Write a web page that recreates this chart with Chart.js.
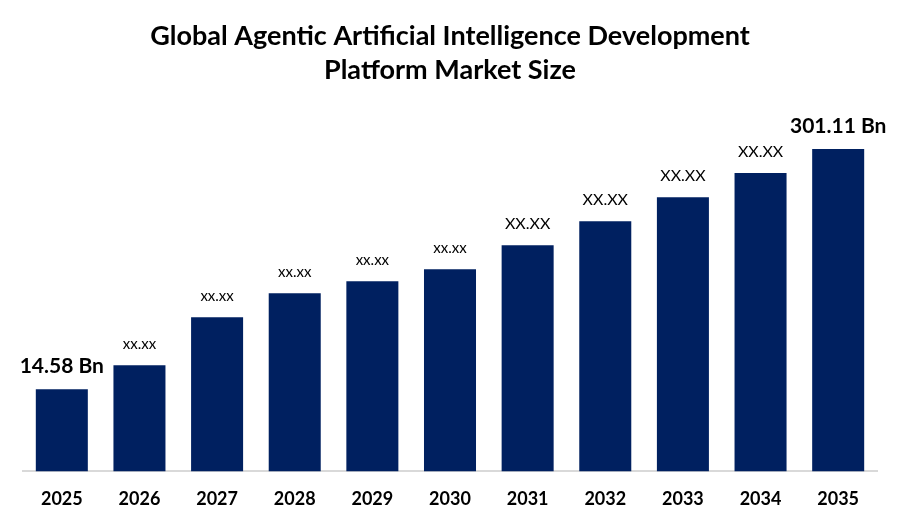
<!DOCTYPE html>
<html lang="en">
<head>
<meta charset="UTF-8">
<title>Global Agentic Artificial Intelligence Development Platform Market Size</title>
<style>
  html, body { margin: 0; padding: 0; background: #fff; }
  #wrap { width: 900px; height: 525px; }
</style>
</head>
<body>
<div id="wrap"><canvas id="grafico"></canvas></div>
<script src="https://cdn.jsdelivr.net/npm/chart.js"></script>
<script>
  // categories
  const years = ['2025','2026','2027','2028','2029','2030','2031','2032','2033','2034','2035'];
  // relative bar heights as drawn (no value axis shown in the source)
  const barHeights = [82, 106, 154, 178, 190, 202, 226, 250, 274, 298, 322];
  // text shown above each bar
  const valueLabels = ['14.58 Bn','xx.xx','xx.xx','xx.xx','xx.xx','xx.xx','XX.XX','XX.XX','XX.XX','XX.XX','301.11 Bn'];

  const FONT = 'Lato';

  // writes the label over each bar
  const rotulos = {
    id: 'rotulos',
    afterDatasetsDraw(chart) {
      const ctx = chart.ctx;
      const meta = chart.getDatasetMeta(0);
      ctx.save();
      ctx.textAlign = 'center';
      ctx.textBaseline = 'alphabetic';
      ctx.fillStyle = '#000';
      meta.data.forEach((bar, i) => {
        const txt = valueLabels[i];
        if (txt.indexOf('Bn') >= 0) {
          ctx.font = 'bold 21px ' + FONT;
        } else if (txt === 'XX.XX') {
          ctx.font = '16px ' + FONT;
        } else {
          ctx.font = '15px ' + FONT;
        }
        ctx.fillText(txt, bar.x, bar.y - 16);
      });
      ctx.restore();
    }
  };

  new Chart(document.getElementById('grafico'), {
    type: 'bar',
    data: {
      labels: years,
      datasets: [{
        data: barHeights,
        backgroundColor: '#002060',
        categoryPercentage: 1,
        barPercentage: 0.67
      }]
    },
    options: {
      responsive: true,
      maintainAspectRatio: false,
      animation: false,
      layout: { padding: { left: 23, right: 23, top: 0, bottom: 6 } },
      plugins: {
        legend: { display: false },
        tooltip: { enabled: false },
        title: {
          display: true,
          text: ['Global Agentic Artificial Intelligence Development', 'Platform Market Size'],
          color: '#000',
          font: { family: FONT, size: 27, weight: 'bold', lineHeight: 1.26 },
          padding: { top: 19, bottom: 16 }
        }
      },
      scales: {
        x: {
          grid: { display: false },
          border: { color: '#d9d9d9', width: 2 },
          ticks: {
            color: '#000',
            padding: 9,
            font: { family: FONT, size: 18, weight: 'bold' }
          }
        },
        y: {
          display: false,
          min: 0,
          max: 368
        }
      }
    },
    plugins: [rotulos]
  });
</script>
</body>
</html>
